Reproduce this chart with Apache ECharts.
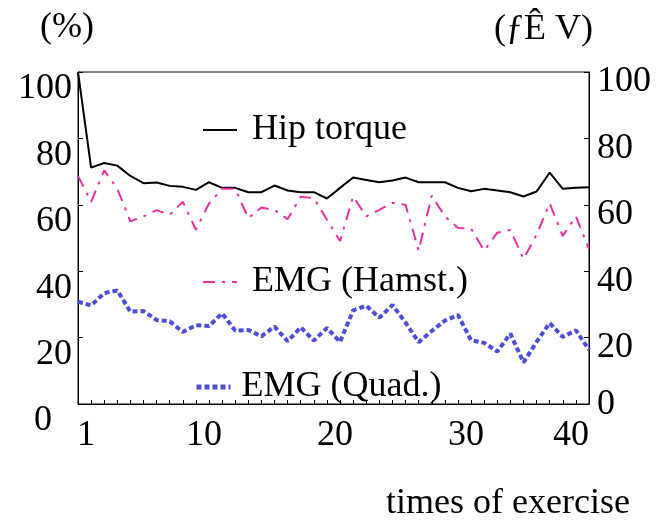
<!DOCTYPE html>
<html>
<head>
<meta charset="utf-8">
<script src="https://cdn.jsdelivr.net/npm/echarts@6/dist/echarts.min.js"></script>
<style>
  html, body { margin: 0; padding: 0; background: #fff; }
  #chart { width: 664px; height: 522px; }
</style>
</head>
<body>
<div id="chart"></div>
<script>
// 运动次数 1..40
const times = [];
for (let i = 1; i <= 40; i++) times.push(i);

// Hip torque (%)
const hipTorque = [100, 71.2, 72.6, 71.8, 68.7, 66.5, 66.7, 65.7, 65.4, 64.5,
    66.8, 65.1, 65.1, 63.8, 63.8, 65.8, 64.3, 63.8, 63.8, 61.9,
    65.1, 68.2, 67.5, 66.8, 67.3, 68.2, 66.8, 66.8, 66.8, 65.1,
    64.1, 64.8, 64.3, 63.8, 62.5, 64.0, 69.7, 64.8, 65.1, 65.3];
// EMG (Hamst.)
const emgHamst = [68.7, 60.9, 70.4, 64.8, 55.0, 56.5, 58.4, 57.0, 60.9, 52.5,
    60.4, 64.8, 64.8, 56.0, 59.2, 58.4, 55.7, 62.4, 62.0, 55.5,
    49.1, 62.5, 56.5, 58.5, 60.6, 60.0, 46.2, 62.8, 56.5, 53.0,
    52.8, 46.2, 51.6, 52.4, 43.7, 51.0, 60.4, 50.6, 56.5, 46.7];
// EMG (Quad.)
const emgQuad = [30.8, 29.7, 33.4, 34.2, 27.8, 28.0, 25.3, 24.9, 21.7, 23.7,
    23.5, 27.3, 22.1, 22.3, 20.4, 23.3, 18.9, 23.1, 19.1, 22.9,
    18.7, 28.2, 29.6, 26.0, 29.8, 24.5, 18.6, 22.0, 25.1, 26.8,
    19.2, 18.4, 15.8, 21.2, 12.5, 18.7, 24.4, 20.2, 22.2, 16.3];
// x 轴显示的刻度标签
const xLabelValues = [1, 10, 20, 30, 40];

const FONT = 'Liberation Serif';
const FS = 36;

const chart = echarts.init(document.getElementById('chart'));

const yAxisBase = {
    type: 'value',
    min: 0,
    max: 100,
    interval: 20,
    splitLine: { show: false },
    axisLine: { show: true, lineStyle: { color: '#000', width: 1 } },
    axisTick: { show: true, inside: true, length: 5, lineStyle: { color: '#000' } },
    nameTextStyle: { fontFamily: FONT, fontSize: FS, color: '#000' }
};

const legendBase = {
    orient: 'horizontal',
    itemWidth: 34,
    itemHeight: 14,
    itemGap: 18,
    itemStyle: { opacity: 0 },
    textStyle: { fontFamily: FONT, fontSize: FS, color: '#000', padding: [0, 0, 0, 10] }
};

const option = {
    animation: false,
    backgroundColor: '#fff',
    grid: {
        left: 78, right: 75, top: 72, bottom: 110,
        show: true, borderColor: '#000', borderWidth: 1
    },
    legend: [
        Object.assign({}, legendBase, { left: 197, top: 107, data: ['Hip torque'] }),
        Object.assign({}, legendBase, { left: 197, top: 259, data: ['EMG (Hamst.)'] }),
        Object.assign({}, legendBase, {
            left: 189, top: 364,
            data: [{ name: 'EMG (Quad.)', lineStyle: { width: 5, type: [5, 3] } }],
            textStyle: { fontFamily: FONT, fontSize: FS, color: '#000', padding: [0, 0, 0, 6] }
        })
    ],
    xAxis: {
        type: 'category',
        boundaryGap: false,
        data: times,
        name: 'times of exercise',
        nameLocation: 'end',
        nameGap: 41,
        nameTextStyle: {
            fontFamily: FONT, fontSize: FS, color: '#000',
            align: 'right', verticalAlign: 'top', padding: [82, 0, 0, 0]
        },
        axisLine: { show: true, lineStyle: { color: '#000', width: 1 } },
        axisTick: { show: true, inside: true, length: 4, interval: 0, lineStyle: { color: '#000' } },
        axisLabel: {
            fontFamily: FONT, fontSize: FS, color: '#000', margin: 14,
            padding: [0, 0, 0, 16],
            interval: (idx, val) => xLabelValues.indexOf(Number(val)) >= 0,
            alignMaxLabel: 'right'
        },
        splitLine: { show: false }
    },
    yAxis: [
        Object.assign({}, yAxisBase, {
            position: 'left',
            name: '(%)',
            nameGap: 26,
            nameTextStyle: { fontFamily: FONT, fontSize: FS, color: '#000', align: 'center', padding: [0, 22, 0, 0] },
            axisLabel: {
                fontFamily: FONT, fontSize: FS, color: '#000', margin: 6,
                padding: [34, 0, 0, 0],
                formatter: v => v === 0 ? '{z|0}' : String(v),
                rich: { z: { fontFamily: FONT, fontSize: FS, color: '#000', padding: [0, 20, 0, 0] } }
            }
        }),
        Object.assign({}, yAxisBase, {
            position: 'right',
            name: '(ƒÊ V)',
            nameGap: 24,
            nameTextStyle: { fontFamily: FONT, fontSize: FS, color: '#000', align: 'right', padding: [0, -4, 0, 0] },
            axisLabel: {
                fontFamily: FONT, fontSize: FS, color: '#000', margin: 8,
                verticalAlign: 'top',
                lineHeight: 20,
                formatter: v => v === 0 ? '{z|0}' : String(v),
                rich: { z: { fontFamily: FONT, fontSize: FS, color: '#000', lineHeight: 20, padding: [0, 0, 18, 0] } }
            }
        })
    ],
    series: [
        {
            name: 'Hip torque',
            type: 'line',
            yAxisIndex: 0,
            data: hipTorque,
            symbol: 'none',
            lineStyle: { color: '#000', width: 2, type: 'solid' },
            itemStyle: { color: '#000' }
        },
        {
            name: 'EMG (Hamst.)',
            type: 'line',
            yAxisIndex: 1,
            data: emgHamst,
            symbol: 'none',
            lineStyle: { color: '#e8309e', width: 2, type: [12, 7, 3, 7] },
            itemStyle: { color: '#e8309e' }
        },
        {
            name: 'EMG (Quad.)',
            type: 'line',
            yAxisIndex: 1,
            data: emgQuad,
            symbol: 'none',
            lineStyle: { color: '#4d4dd8', width: 4, type: [5, 3] },
            itemStyle: { color: '#4d4dd8' }
        }
    ]
};

chart.setOption(option);
</script>
</body>
</html>
